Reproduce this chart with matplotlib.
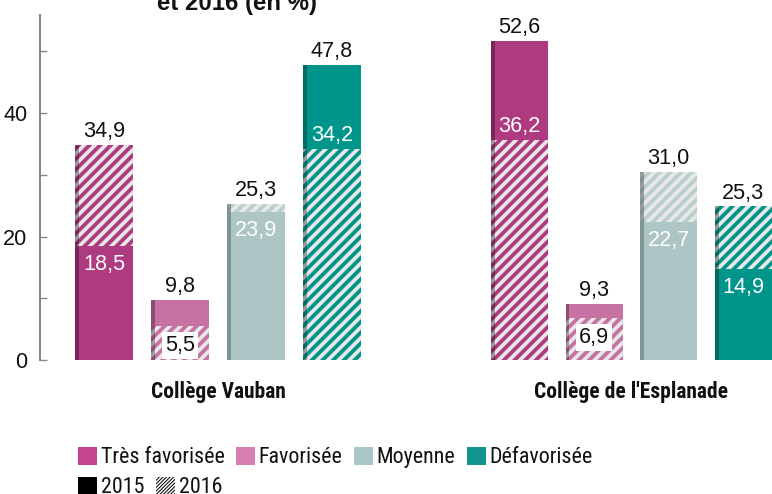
import matplotlib
matplotlib.use('Agg')
import matplotlib.pyplot as plt
from matplotlib import font_manager as fm
from matplotlib.patches import Patch
import numpy as np

# ---------------- data ----------------
colleges = ["Collège Vauban", "Collège de l'Esplanade"]
categories = ["Très favorisée", "Favorisée", "Moyenne", "Défavorisée"]
vauban_2015 = [18.5, 9.8, 23.9, 47.8]
vauban_2016 = [34.9, 5.5, 25.3, 34.2]
esplanade_2015 = [52.6, 9.3, 22.7, 14.9]
esplanade_2016 = [36.2, 6.9, 31.0, 25.3]
years = ["2015", "2016"]
title_tail = "et 2016 (en %)"

# ---------------- style ----------------
bar_colors = ['#ae3a7f', '#c673a3', '#adc6c5', '#00958a']
stripe_colors = ['#ae3a7f', '#c673a3', '#b9cfce', '#00958a']
dark_colors = ['#7a2858', '#8c4f72', '#7f9594', '#006b63']
legend_colors = ['#c44490', '#d67fb0', '#a9c7c6', '#12968b']
hatch_bg = '#e8e8e8'
hatch_bg_dark = '#9a9a9a'
text_color = '#111111'

DPI = 128
PT = 72.0 / DPI          # points per pixel
W, H = 772, 494

names = {f.name for f in fm.fontManager.ttflist}


def has_weights(fam):
    ws = [f.weight for f in fm.fontManager.ttflist if f.name == fam]
    ws = [w if isinstance(w, int) else {'normal': 400, 'regular': 400, 'bold': 700}.get(w, 400) for w in ws]
    return any(w <= 500 for w in ws), any(w >= 600 for w in ws)


narrow_candidates = ['Liberation Sans Narrow', 'Arial Narrow', 'Roboto Condensed', 'PT Sans Narrow',
                     'Archivo Narrow', 'IBM Plex Sans Condensed', 'Pragati Narrow',
                     'Asap Condensed', 'Encode Sans Condensed', 'Barlow Semi Condensed']
narrow = None
for c in narrow_candidates:
    if c in names:
        reg, bold = has_weights(c)
        if reg and bold:
            narrow = c
            break
if narrow is None:
    for c in narrow_candidates:
        if c in names:
            narrow = c
            break
narrow_family = [narrow, 'Liberation Sans', 'DejaVu Sans'] if narrow else ['Liberation Sans', 'DejaVu Sans']
plt.rcParams['font.family'] = ['Liberation Sans', 'DejaVu Sans']
plt.rcParams['hatch.linewidth'] = 3.8 * PT

fig = plt.figure(figsize=(W / DPI, H / DPI), dpi=DPI)


def px_axes(left, right, top, bottom):
    return fig.add_axes([left / W, 1 - bottom / H, (right - left) / W, (bottom - top) / H])


ax1 = px_axes(40, 400, 15, 360)
ax2 = px_axes(440, 772, 15, 360)
axes = [ax1, ax2]
ax1.set_xlim(-0.842, 3.895)
ax2.set_xlim(-1.062, 3.383)
ax1.set_ylim(0, 55.9)
ax2.set_ylim(0, 56.8)

width = 0.763
strip = 0.053
data = [(vauban_2015, vauban_2016), (esplanade_2015, esplanade_2016)]
value_fs = 21.6 * PT
bar_hatch = '////'


def fmt(v):
    return f"{v:.1f}".replace('.', ',')


def draw_segment(ax, x, v, i, hatched, z):
    left = x - width / 2
    if hatched:
        ax.bar(x, v, width=width, facecolor=hatch_bg, edgecolor=stripe_colors[i],
               hatch=bar_hatch, linewidth=0, zorder=z)
        ax.bar(left + strip / 2, v, width=strip, facecolor=hatch_bg_dark,
               edgecolor=dark_colors[i], hatch=bar_hatch, linewidth=0, zorder=z + 0.1)
    else:
        ax.bar(x, v, width=width, color=bar_colors[i], linewidth=0, zorder=z)
        ax.bar(left + strip / 2, v, width=strip, color=dark_colors[i], linewidth=0,
               zorder=z + 0.1)


for g, (s15, s16) in enumerate(data):
    ax = axes[g]
    xs = np.arange(len(categories))
    for i, x in enumerate(xs):
        a, b = s15[i], s16[i]
        if a >= b:
            draw_segment(ax, x, a, i, False, 2)
            draw_segment(ax, x, b, i, True, 3)
            top, inner, inner_hatched = a, b, True
        else:
            draw_segment(ax, x, b, i, True, 2)
            draw_segment(ax, x, a, i, False, 3)
            top, inner, inner_hatched = b, a, False
        ax.annotate(fmt(top), (x, top), xytext=(0, 7.5 * PT), textcoords='offset points',
                    ha='center', va='baseline', fontsize=value_fs, color=text_color, zorder=5)
        if inner_hatched and (top - inner) > 8:
            # label sits in the solid part just above the hatched segment
            ax.annotate(fmt(inner), (x, inner), xytext=(0, 8 * PT), textcoords='offset points',
                        ha='center', va='baseline', fontsize=value_fs, color='white', zorder=5)
        elif inner_hatched:
            ax.annotate(fmt(inner), (x, inner), xytext=(0, -25 * PT), textcoords='offset points',
                        ha='center', va='baseline', fontsize=value_fs, color=text_color, zorder=5,
                        bbox=dict(boxstyle='square,pad=0.12', fc='white', ec='none'))
        else:
            ax.annotate(fmt(inner), (x, inner), xytext=(0, -24 * PT), textcoords='offset points',
                        ha='center', va='baseline', fontsize=value_fs, color='white', zorder=5)
    ax.annotate(colleges[g], (xs.mean(), 0), xytext=(0, -38 * PT), textcoords='offset points',
                ha='center', va='baseline', fontsize=21.5 * PT, fontweight='bold',
                family=narrow_family, color=text_color, annotation_clip=False)
    ax.set_xticks([])
    for s in ['top', 'right', 'bottom']:
        ax.spines[s].set_visible(False)
    ax.patch.set_alpha(0)

ax1.set_yticks([0, 20, 40])
ax1.set_yticks([10, 30, 50], minor=True)
ax1.tick_params(axis='y', which='both', direction='in', length=4, width=1.0 * PT * 1.4,
                color='#888888', labelsize=value_fs, labelcolor=text_color, pad=7)
ax1.spines['left'].set_color('#888888')
ax1.spines['left'].set_linewidth(2 * PT)
ax2.set_yticks([])
ax2.spines['left'].set_visible(False)

fig.text(237 / W, 1 - 10 / H, title_tail, ha='center', va='baseline',
         fontsize=24 * PT, fontweight='bold', color=text_color)

leg_em = 22.0
leg_fs = leg_em * PT
leg_kw = dict(loc='upper left', frameon=False,
              handlelength=19 / leg_em, handleheight=19 / leg_em,
              handletextpad=4 / leg_em, columnspacing=11 / leg_em,
              borderpad=0, borderaxespad=0, labelspacing=0,
              prop={'family': narrow_family, 'size': leg_fs})
cat_handles = [Patch(facecolor=c, edgecolor='none') for c in legend_colors]
leg1 = fig.legend(cat_handles, categories, ncol=4,
                  bbox_to_anchor=(78 / W, 1 - 447 / H), **leg_kw)
for t in leg1.get_texts():
    t.set_color(text_color)

with plt.rc_context({'hatch.linewidth': 1.0 * PT}):
    hatch_handle = Patch(facecolor='white', edgecolor='black', hatch='////////////', linewidth=0)
    if hasattr(hatch_handle, 'set_hatch_linewidth'):
        hatch_handle.set_hatch_linewidth(1.0 * PT)
    year_handles = [Patch(facecolor='black', edgecolor='none'), hatch_handle]
    leg2 = fig.legend(year_handles, years, ncol=2,
                      bbox_to_anchor=(78 / W, 1 - 477 / H), **leg_kw)
    for p in leg2.get_patches():
        if hasattr(p, 'set_hatch_linewidth'):
            p.set_hatch_linewidth(1.0 * PT)
for t in leg2.get_texts():
    t.set_color(text_color)

fig.savefig('out.png', dpi=DPI)
